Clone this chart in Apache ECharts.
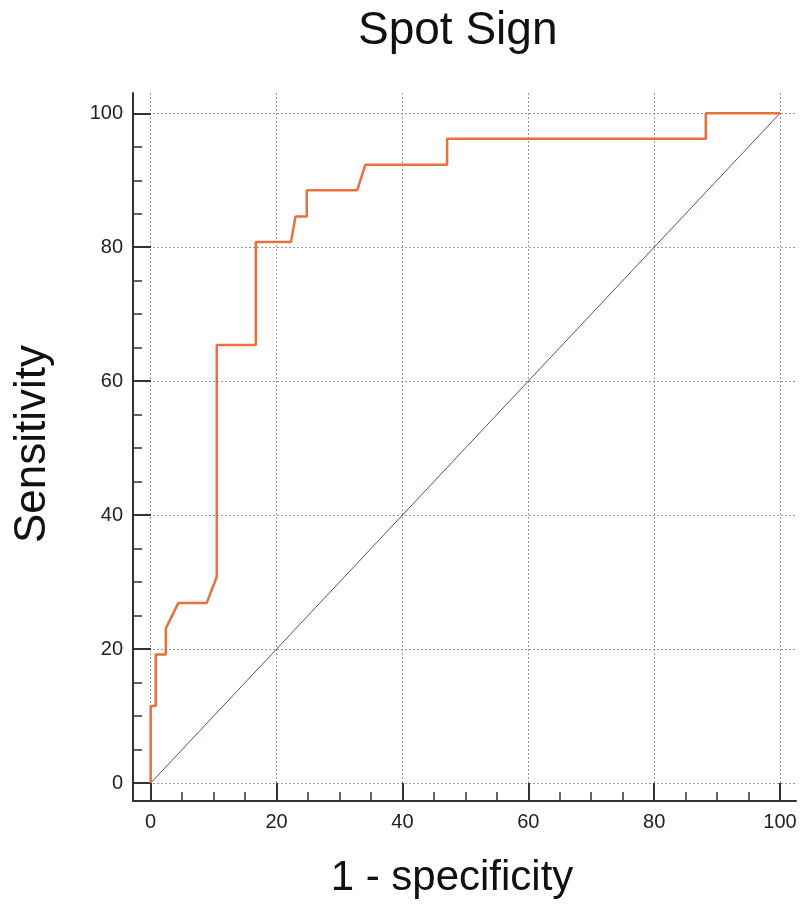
<!DOCTYPE html>
<html>
<head>
<meta charset="utf-8">
<script src="https://cdn.jsdelivr.net/npm/echarts@6/dist/echarts.min.js"></script>
<style>html,body{margin:0;padding:0;background:#fff}#c{width:800px;height:904px}</style>
</head>
<body>
<div id="c"></div>
<script>
var titleText = 'Spot Sign';
var xName = '1 - specificity';
var yName = 'Sensitivity';
var majorTicks = [0, 20, 40, 60, 80, 100];
var minorTicks = [5, 10, 15, 25, 30, 35, 45, 50, 55, 65, 70, 75, 85, 90, 95];
var rocX = [0, 0, 0.8, 0.8, 2.4, 2.4, 4.4, 8.9, 10.5, 10.5, 16.7, 16.7, 22.3, 23.0, 24.8, 24.8, 32.8, 34.1, 47.1, 47.1, 88.2, 88.2, 100];
var rocY = [0, 11.5, 11.5, 19.2, 19.2, 23.1, 26.9, 26.9, 30.8, 65.4, 65.4, 80.8, 80.8, 84.6, 84.6, 88.5, 88.5, 92.3, 92.3, 96.2, 96.2, 100, 100];
var refX = [0, 100];
var refY = [0, 100];

var font = 'Liberation Sans, Arial, sans-serif';
var rocData = rocX.map(function (x, i) { return [x, rocY[i]]; });
var refData = refX.map(function (x, i) { return [x, refY[i]]; });

function majorAxis(isX) {
  return {
    type: 'value',
    position: isX ? 'bottom' : 'left',
    min: isX ? -2.81 : -2.68,
    max: isX ? 102.54 : 103.03,
    name: isX ? xName : yName,
    nameLocation: 'middle',
    nameGap: isX ? 56 : 78,
    nameTextStyle: isX
      ? { fontFamily: font, fontSize: 42, color: '#111', padding: [0, 25, 0, 0] }
      : { fontFamily: font, fontSize: 44, color: '#111', padding: [0, 0, 0, 6] },
    axisLine: { show: true, onZero: false, lineStyle: { color: '#333', width: 2 } },
    axisTick: { show: true, inside: true, length: 18, customValues: majorTicks, lineStyle: { color: '#333', width: 2 } },
    axisLabel: { show: true, customValues: majorTicks, margin: isX ? 11 : 10, fontFamily: font, fontSize: 20, color: '#222' },
    splitLine: { show: true, lineStyle: { color: '#9a9a9a', width: 1, type: [2, 2] } },
    minorTick: { show: false },
    z: 3
  };
}
function minorAxis(isX) {
  return {
    type: 'value',
    position: isX ? 'bottom' : 'left',
    min: isX ? -2.81 : -2.68,
    max: isX ? 102.54 : 103.03,
    axisLine: { show: false, onZero: false },
    axisTick: { show: true, inside: true, length: 9, customValues: minorTicks, lineStyle: { color: '#333', width: 1.5 } },
    axisLabel: { show: false, customValues: minorTicks },
    splitLine: { show: false }
  };
}

var chart = echarts.init(document.getElementById('c'), null, { renderer: 'canvas' });
chart.setOption({
  animation: false,
  backgroundColor: '#fff',
  title: {
    text: titleText,
    left: 353,
    top: 3,
    textStyle: { fontFamily: font, fontSize: 46, fontWeight: 'normal', color: '#111' }
  },
  grid: { left: 133, top: 93, width: 663, height: 709, containLabel: false },
  xAxis: [majorAxis(true), minorAxis(true)],
  yAxis: [majorAxis(false), minorAxis(false)],
  series: [
    {
      type: 'line',
      data: refData,
      xAxisIndex: 0, yAxisIndex: 0,
      symbol: 'none',
      lineStyle: { color: '#6a4a60', width: 1 },
      z: 4
    },
    {
      type: 'line',
      data: rocData,
      xAxisIndex: 0, yAxisIndex: 0,
      symbol: 'none',
      lineStyle: { color: '#E9703F', width: 2.5 },
      z: 5
    }
  ]
});
</script>
</body>
</html>
